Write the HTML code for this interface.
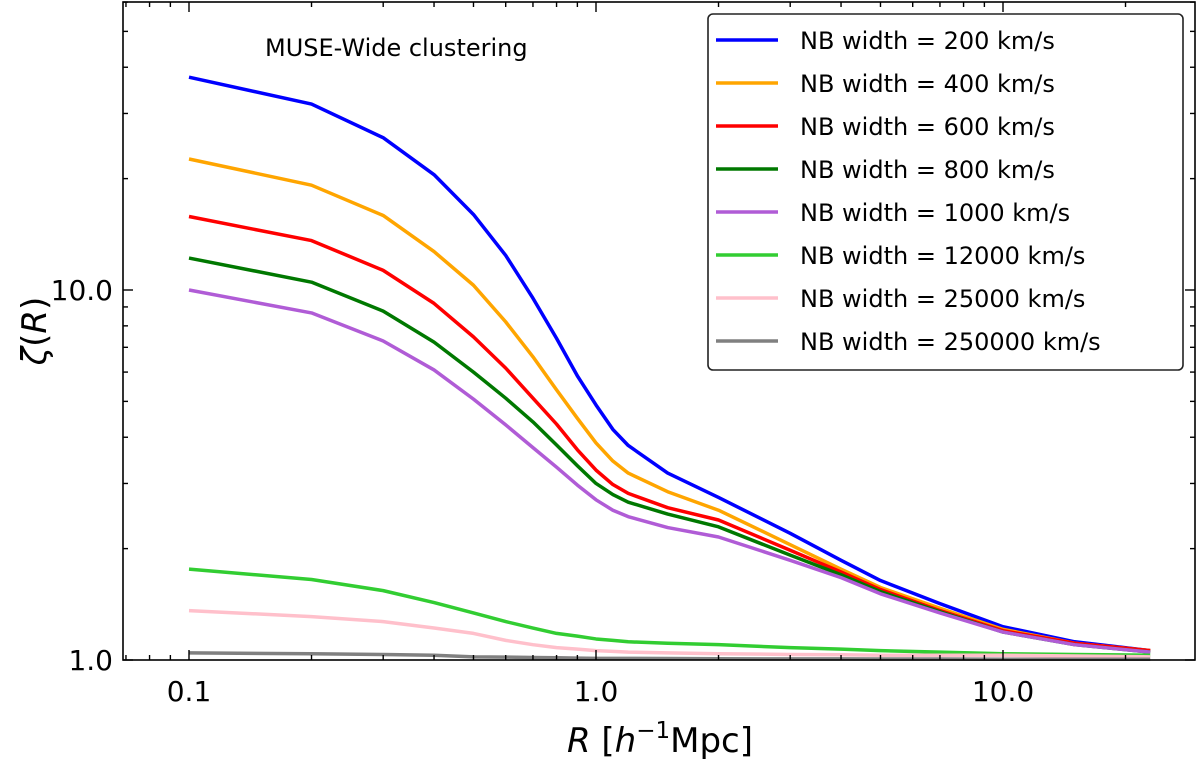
<!DOCTYPE html>
<html><head><meta charset="utf-8"><style>body{margin:0;background:#fff}svg{display:block}text{font-family:"DejaVu Sans","Liberation Sans",sans-serif}</style></head>
<body>
<svg id="chart" width="1200" height="763" xmlns="http://www.w3.org/2000/svg"></svg>
<script>
const xs = [0.1,0.2,0.3,0.4,0.5,0.6,0.7,0.8,0.9,1.0,1.1,1.2,1.5,2,3,4,5,7,10,15,23];
const seriesNames = ["NB width = 200 km/s","NB width = 400 km/s","NB width = 600 km/s","NB width = 800 km/s","NB width = 1000 km/s","NB width = 12000 km/s","NB width = 25000 km/s","NB width = 250000 km/s"];
const seriesColors = ["#0000ff","#ffa500","#ff0000","#007800","#b05cd6","#32cd32","#ffc0cb","#808080"];
const s200 = [37.6,31.8,25.8,20.5,16.0,12.4,9.5,7.4,5.86,4.89,4.2,3.8,3.2,2.75,2.2,1.86,1.64,1.42,1.23,1.12,1.06];
const s400 = [22.6,19.2,15.9,12.7,10.3,8.2,6.6,5.37,4.5,3.86,3.45,3.2,2.85,2.54,2.05,1.76,1.57,1.38,1.21,1.11,1.06];
const s600 = [15.8,13.6,11.3,9.2,7.47,6.15,5.1,4.34,3.7,3.26,2.98,2.82,2.58,2.39,1.98,1.73,1.55,1.36,1.2,1.11,1.06];
const s800 = [12.2,10.5,8.77,7.23,6.0,5.1,4.4,3.81,3.35,3.0,2.8,2.67,2.48,2.29,1.92,1.7,1.53,1.35,1.19,1.1,1.05];
const s1000 = [10.0,8.67,7.28,6.08,5.07,4.32,3.75,3.32,2.97,2.71,2.54,2.44,2.28,2.15,1.86,1.67,1.51,1.34,1.19,1.1,1.05];
const s12000 = [1.76,1.65,1.54,1.43,1.34,1.27,1.22,1.18,1.16,1.14,1.13,1.12,1.11,1.1,1.08,1.07,1.06,1.05,1.04,1.035,1.03];
const s25000 = [1.36,1.31,1.27,1.22,1.18,1.13,1.1,1.08,1.07,1.06,1.055,1.05,1.045,1.04,1.035,1.033,1.03,1.03,1.03,1.025,1.02];
const s250000 = [1.045,1.04,1.035,1.03,1.02,1.018,1.016,1.014,1.012,1.01,1.01,1.01,1.009,1.008,1.007,1.007,1.006,1.006,1.005,1.005,1.005];
const allSeries = [s200,s400,s600,s800,s1000,s12000,s25000,s250000];
const xTicks = [0.1,1,10];
const xTickLabels = ["0.1","1.0","10.0"];
const yTicks = [1,10];
const yTickLabels = ["1.0","10.0"];

const L=123,R=1195,T=2,B=660;
const X=v=>596+407*Math.log10(v);
const Y=v=>660-370*Math.log10(v);
const svg=document.getElementById('chart');
const NS='http://www.w3.org/2000/svg';
function mk(tag,attrs,parent){const e=document.createElementNS(NS,tag);for(const k in attrs)e.setAttribute(k,attrs[k]);(parent||svg).appendChild(e);return e;}

allSeries.forEach((s,i)=>{
  const p=mk('polyline',{points:s.map((v,j)=>X(xs[j])+','+Y(v)).join(' '),fill:'none',stroke:seriesColors[i],'stroke-width':3.5,'stroke-linejoin':'round'});
  
  
});
const fr=mk('rect',{x:L,y:T,width:R-L,height:B-T,fill:'none',stroke:'#000','stroke-width':1.6});


for(let d=-2;d<=1;d++)for(let m=1;m<10;m++){const v=m*Math.pow(10,d);const x=X(v);if(x<L||x>R)continue;const len=m==1?10:5;
 mk('line',{x1:x,x2:x,y1:B,y2:B-len,stroke:'#000','stroke-width':1.4});mk('line',{x1:x,x2:x,y1:T,y2:T+len,stroke:'#000','stroke-width':1.4});}
for(let d=0;d<=1;d++)for(let m=1;m<10;m++){const v=m*Math.pow(10,d);const y=Y(v);if(y<T||y>B)continue;const len=m==1?10:5;
 mk('line',{x1:L,x2:L+len,y1:y,y2:y,stroke:'#000','stroke-width':1.4});mk('line',{x1:R,x2:R-len,y1:y,y2:y,stroke:'#000','stroke-width':1.4});}
xTicks.forEach((v,i)=>{const t=mk('text',{x:X(v),y:701,'text-anchor':'middle','font-size':28});t.textContent=xTickLabels[i];
 });
yTicks.forEach((v,i)=>{const t=mk('text',{x:L-10,y:Y(v)+10,'text-anchor':'end','font-size':28});t.textContent=yTickLabels[i];
 });
const lg=mk('g',{});


mk('rect',{x:708,y:14,width:475,height:356,rx:5,fill:'#fff',stroke:'#222','stroke-width':1.6},lg);
seriesNames.forEach((n,i)=>{const y=40+43*i;
 mk('line',{x1:716,x2:778,y1:y,y2:y,stroke:seriesColors[i],'stroke-width':3.5},lg);
 const t=mk('text',{x:800,y:y+9,'font-size':24},lg);t.textContent=n;
 });
</script>
<svg style="position:absolute;left:0;top:0" width="1200" height="763">
<text x="265" y="56" font-size="24">MUSE-Wide clustering</text>
<text x="660" y="752" text-anchor="middle" font-size="34"><tspan font-style="italic">R</tspan> [<tspan font-style="italic">h</tspan><tspan font-size="23" dy="-14">−1</tspan><tspan dy="14">Mpc]</tspan></text>
<text transform="translate(46,331) rotate(-90)" text-anchor="middle" font-size="34"><tspan font-style="italic">ζ</tspan>(<tspan font-style="italic">R</tspan>)</text>
</svg>
</body></html>
